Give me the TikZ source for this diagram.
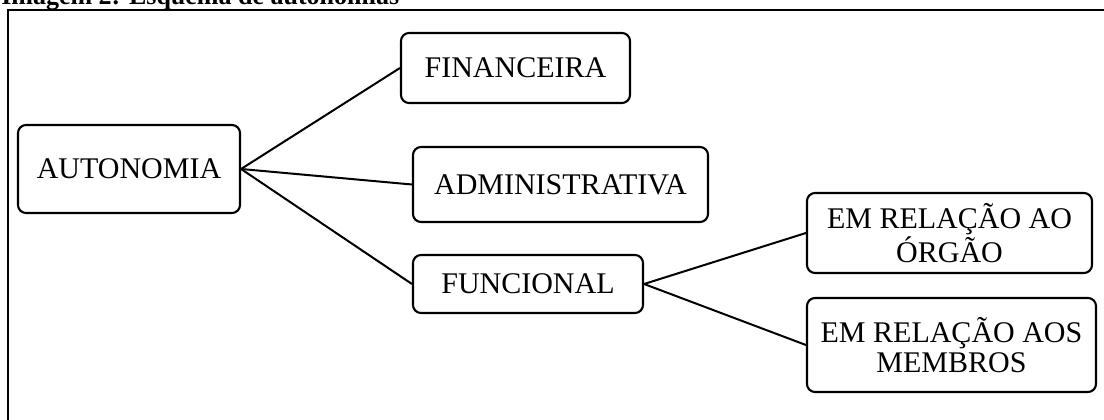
\documentclass[tikz,border=0pt]{standalone}
\usepackage{fontspec}
\setmainfont{Liberation Serif}
\usepackage{tikz}
\tikzset{
  rbox/.style={draw,line width=1.6pt,rounded corners=6pt,inner sep=0pt,align=center,font=\fontsize{22.5}{22.5}\selectfont},
  branch/.style={line width=1.5pt}
}

\begin{document}
\begin{tikzpicture}[x=0.75pt,y=-0.75pt]
    \useasboundingbox (0,0) rectangle (1104,420);
    \begin{scope}
    \clip (0,0) rectangle (1104,420);
    \node[anchor=base west,inner sep=0pt,font=\fontsize{19.5}{19.5}\selectfont\bfseries] (cap) at (1,5) {Imagem 2: Esquema de autonomias};
    \draw[line width=1.5pt] (8,430) -- (8,10) -- (1110,10);
    \end{scope}
    \node[rbox,minimum width=166.5pt,minimum height=66pt] (autonomia) at (129,169) {AUTONOMIA};
    \node[rbox,minimum width=171.75pt,minimum height=52.5pt] (financeira) at (515.5,68) {FINANCEIRA};
    \node[rbox,minimum width=221.25pt,minimum height=56.25pt] (administrativa) at (560.5,184.5) {ADMINISTRATIVA};
    \node[rbox,minimum width=172.5pt,minimum height=43.5pt] (funcional) at (528,284) {FUNCIONAL};
    \node[rbox,minimum width=213.75pt,minimum height=60pt] (orgao) at (949.5,233) {EM RELAÇÃO AO\\ÓRGÃO};
    \node[rbox,minimum width=216.75pt,minimum height=70.5pt] (membros) at (951.5,345) {EM RELAÇÃO AOS\\MEMBROS};
    \draw[branch] (autonomia.east) -- (financeira.west);
    \draw[branch] (autonomia.east) -- (administrativa.west);
    \draw[branch] (autonomia.east) -- (funcional.west);
    \draw[branch] (funcional.east) -- (orgao.west);
    \draw[branch] (funcional.east) -- (membros.west);
\end{tikzpicture}
\end{document}
